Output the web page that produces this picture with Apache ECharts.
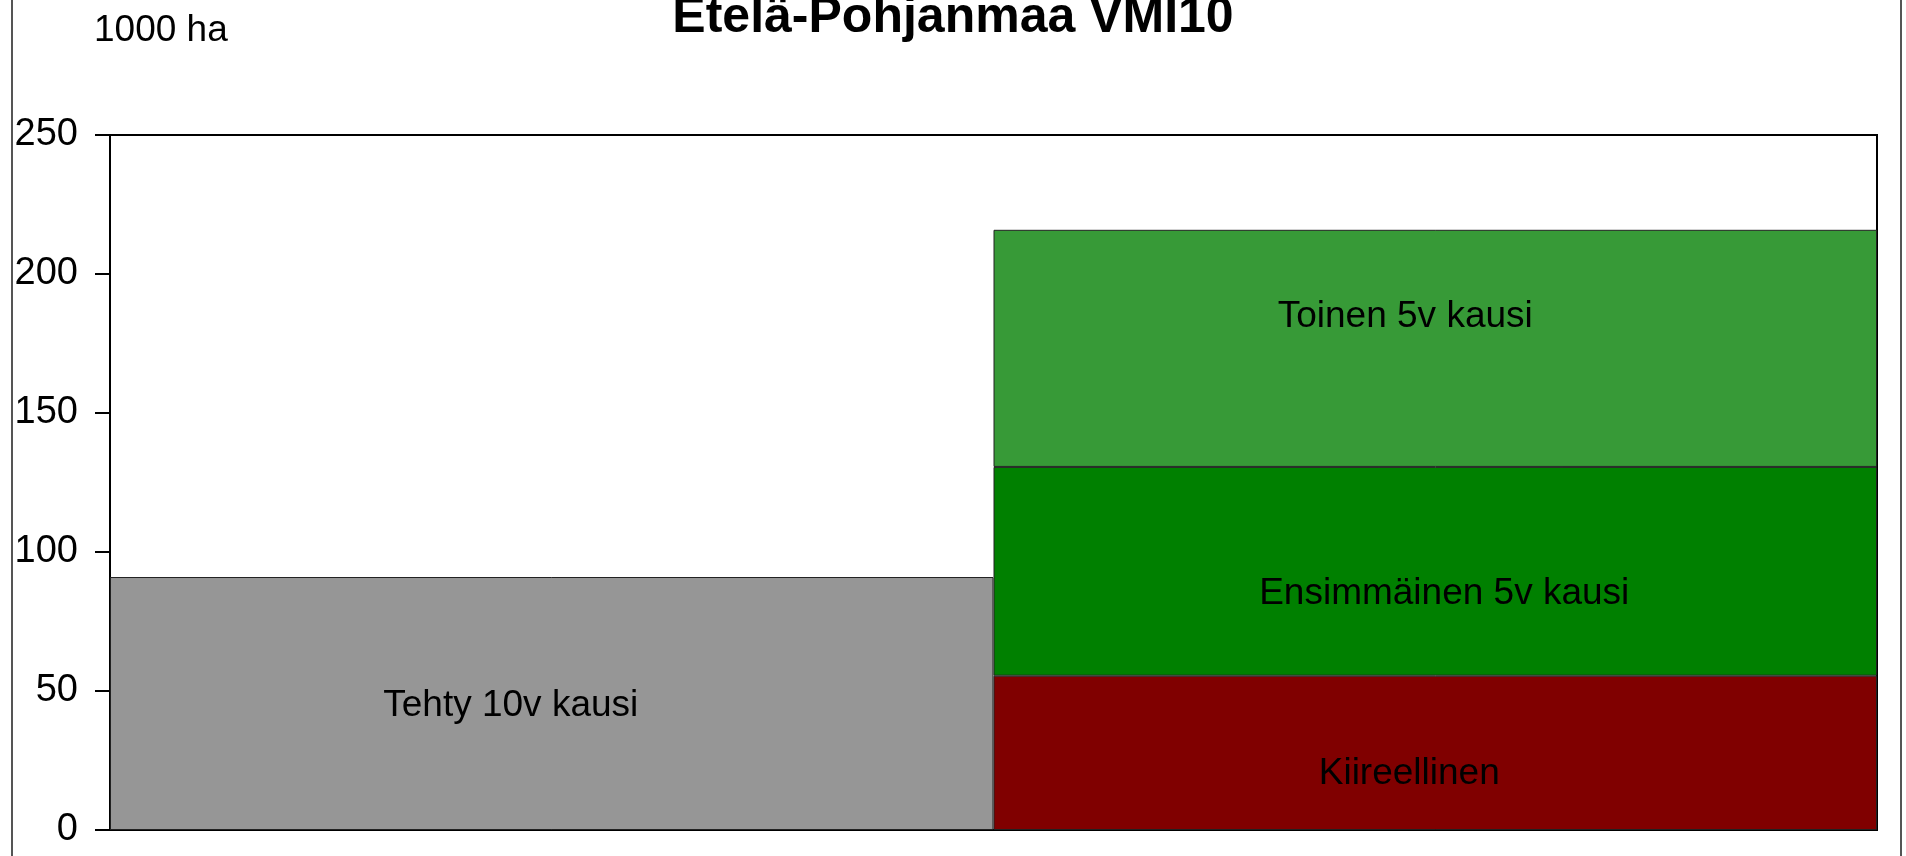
<!DOCTYPE html>
<html lang="fi">
<head>
    <meta charset="UTF-8">
    <title>Etelä-Pohjanmaa VMI10</title>
</head>
<body>
<div id="main"></div>
</body>

<style type="text/css" media="screen">
    html, body {
        width: 100%;
        height: 100%;
        overflow: hidden;
        margin: 0;
        background: #fff;
    }

    #main {
        width: 1906px;
        height: 856px;
    }
</style>
<script src="https://cdn.jsdelivr.net/npm/echarts@6/dist/echarts.min.js"></script>
<script>
    var categories = ['Tehty', 'Tarve'];
    var tehty = [91, '-'];
    var kiireellinen = ['-', 55.5];
    var ensimmainen = ['-', 75.1];
    var toinen = ['-', 85.3];
    var yTicks = [0, 50, 100, 150, 200, 250];

    var font = 'Liberation Sans, Arial, sans-serif';
    var myChart = echarts.init(document.getElementById('main'));

    function barLabel(text, offset) {
        return {
            show: true,
            position: 'inside',
            formatter: text,
            offset: offset,
            color: '#000',
            fontSize: 37,
            fontFamily: font
        };
    }

    option = {
        animation: false,
        backgroundColor: '#fff',
        title: {
            text: 'Etelä-Pohjanmaa VMI10',
            left: 'center',
            top: -12,
            textStyle: {
                fontFamily: font,
                fontWeight: 'bold',
                fontSize: 50,
                color: '#000'
            }
        },
        graphic: [{
            type: 'rect',
            shape: {x: 12, y: -10, width: 1889, height: 876},
            style: {fill: 'none', stroke: '#555', lineWidth: 2},
            silent: true
        }, {
            type: 'text',
            left: 94,
            top: 12,
            style: {
                text: '1000 ha',
                fontFamily: font,
                fontSize: 37,
                fill: '#000'
            }
        }],
        grid: {
            left: 110,
            right: 29,
            top: 135,
            bottom: 26,
            show: true,
            borderColor: '#000',
            borderWidth: 2
        },
        xAxis: {
            type: 'category',
            data: categories,
            axisLine: {lineStyle: {color: '#000', width: 2}},
            axisTick: {show: false},
            axisLabel: {show: false}
        },
        yAxis: {
            type: 'value',
            min: yTicks[0],
            max: yTicks[yTicks.length - 1],
            interval: 50,
            axisLine: {show: true, lineStyle: {color: '#000', width: 2}},
            axisTick: {show: true, length: 15, lineStyle: {color: '#000', width: 2}},
            splitLine: {show: false},
            axisLabel: {
                color: '#000',
                fontSize: 38,
                fontFamily: font,
                margin: 32
            }
        },
        series: [{
            name: 'Tehty 10v kausi',
            type: 'bar',
            stack: 'a',
            barWidth: '100%',
            data: tehty,
            itemStyle: {color: '#969696', borderColor: '#222', borderWidth: 1},
            label: barLabel('Tehty 10v kausi', [-41, 2])
        }, {
            name: 'Kiireellinen',
            type: 'bar',
            stack: 'a',
            barWidth: '100%',
            data: kiireellinen,
            itemStyle: {color: '#800000', borderColor: '#222', borderWidth: 1},
            label: barLabel('Kiireellinen', [-26, 21])
        }, {
            name: 'Ensimmäinen 5v kausi',
            type: 'bar',
            stack: 'a',
            barWidth: '100%',
            data: ensimmainen,
            itemStyle: {color: '#008000', borderColor: '#222', borderWidth: 1},
            label: barLabel('Ensimmäinen 5v kausi', [9, 22])
        }, {
            name: 'Toinen 5v kausi',
            type: 'bar',
            stack: 'a',
            barWidth: '100%',
            data: toinen,
            itemStyle: {color: '#379a37', borderColor: '#222', borderWidth: 1},
            label: barLabel('Toinen 5v kausi', [-30, -32])
        }]
    };
    myChart.setOption(option);
</script>
</html>
